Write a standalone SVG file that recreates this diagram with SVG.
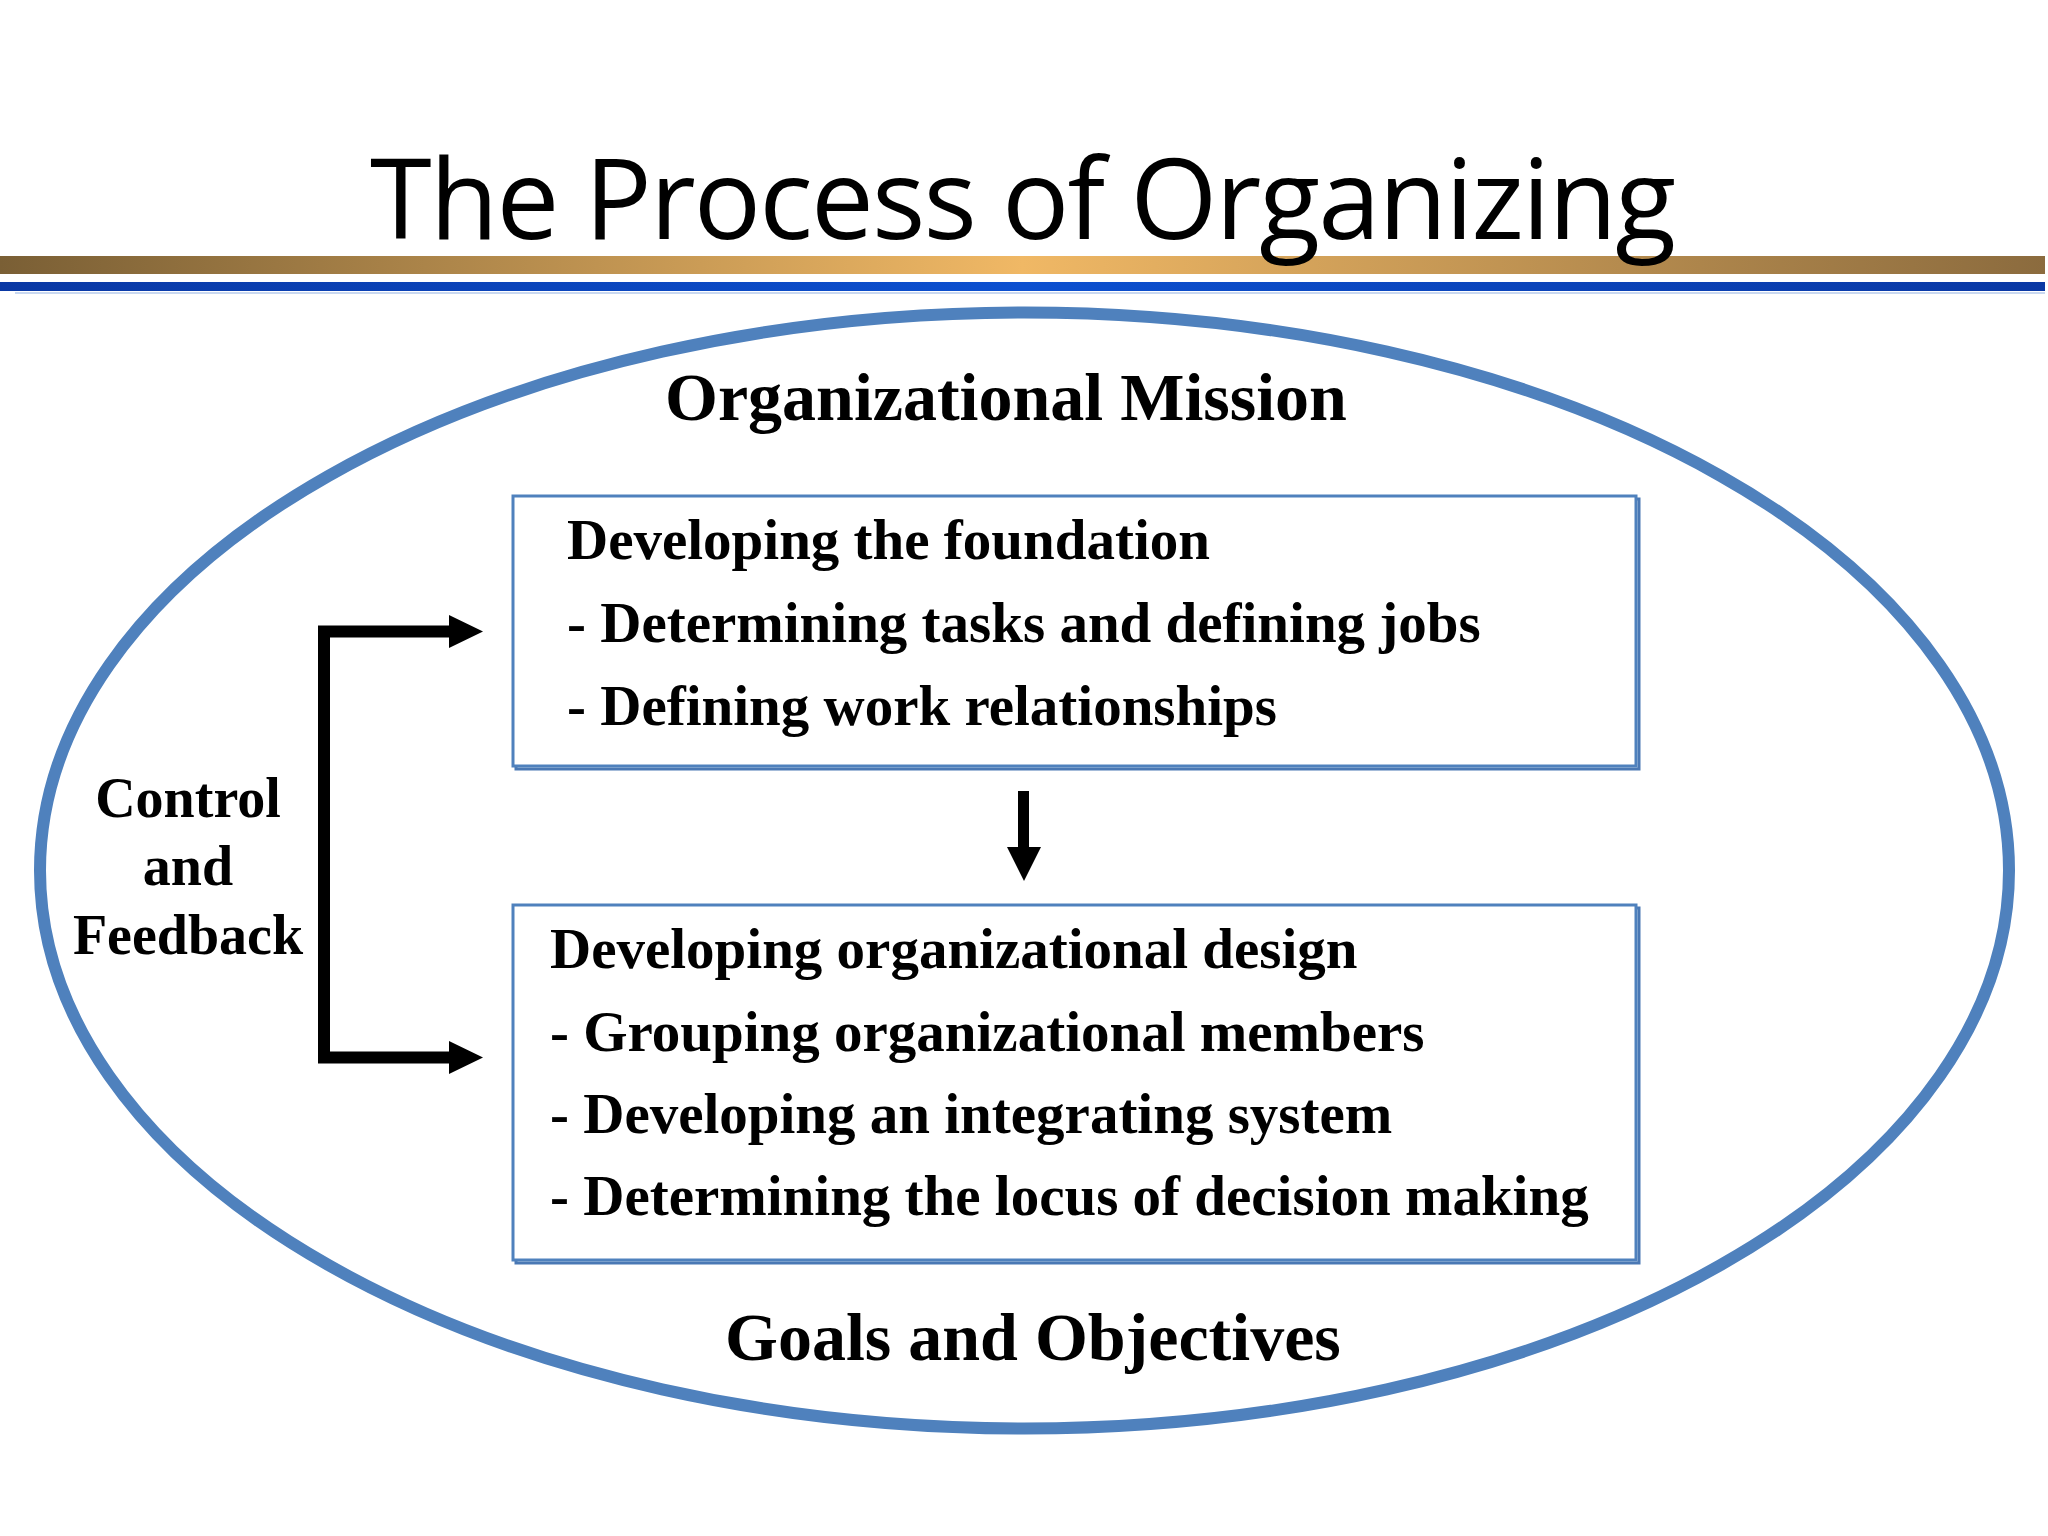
<svg xmlns="http://www.w3.org/2000/svg" width="2048" height="1536" viewBox="0 0 2048 1536">
  <style>
    .title { font-family: "Open Sans", "Noto Sans", sans-serif; font-size: 112px; fill: #000; }
    .big { font-family: "Liberation Serif", "Times New Roman", serif; font-weight: bold; font-size: 68px; fill: #000; }
    .txt { font-family: "Liberation Serif", "Times New Roman", serif; font-weight: bold; font-size: 57px; fill: #000; }
    .side { font-family: "Liberation Serif", "Times New Roman", serif; font-weight: bold; font-size: 56px; fill: #000; }
    .box { fill: #ffffff; stroke: #4f81bd; stroke-width: 3; }
    .shadow { fill: none; stroke: #4a78b4; stroke-width: 3; }
    .conn { fill: none; stroke: #000; stroke-width: 12; stroke-linejoin: miter; }
    .head { fill: #000; }
  </style>
  <defs>
    <linearGradient id="gold" x1="0" y1="0" x2="1" y2="0">
      <stop offset="0" stop-color="#7a5f35"/>
      <stop offset="0.5" stop-color="#f0b865"/>
      <stop offset="1" stop-color="#8b6b3e"/>
    </linearGradient>
    <linearGradient id="blue" x1="0" y1="0" x2="1" y2="0">
      <stop offset="0" stop-color="#0a38a4"/>
      <stop offset="0.5" stop-color="#0c50d0"/>
      <stop offset="1" stop-color="#0a38a4"/>
    </linearGradient>
  </defs>
  <rect width="2048" height="1536" fill="#ffffff"/>

  <g id="header">
    <rect x="0" y="256" width="2045" height="18" fill="url(#gold)"/>
    <rect x="0" y="282" width="2045" height="9" fill="url(#blue)"/>
    <rect x="15" y="292" width="2030" height="2" fill="#c9d8f0"/>
    <text class="title" x="370" y="239" textLength="1306" lengthAdjust="spacing">The Process of Organizing</text>
  </g>

  <g id="mission-ellipse">
    <ellipse cx="1024.5" cy="870.5" rx="984.5" ry="558" fill="none" stroke="#4f81bd" stroke-width="12"/>
    <text class="big" x="665" y="420">Organizational Mission</text>
    <text class="big" x="725" y="1360">Goals and Objectives</text>
  </g>

  <g id="foundation">
    <rect class="shadow" x="516" y="499" width="1123" height="270"/>
    <rect class="box" x="513" y="496" width="1123" height="270"/>
    <text class="txt" x="567" y="559">Developing the foundation</text>
    <text class="txt" x="567" y="642">- Determining tasks and defining jobs</text>
    <text class="txt" x="567" y="725">- Defining work relationships</text>
  </g>

  <g id="design">
    <rect class="shadow" x="516" y="908" width="1123" height="355"/>
    <rect class="box" x="513" y="905" width="1123" height="355"/>
    <text class="txt" x="550" y="968">Developing organizational design</text>
    <text class="txt" x="550" y="1051">- Grouping organizational members</text>
    <text class="txt" x="550" y="1133">- Developing an integrating system</text>
    <text class="txt" x="550" y="1215">- Determining the locus of decision making</text>
  </g>

  <g id="control-feedback">
    <text class="side" x="188" y="817" text-anchor="middle">Control</text>
    <text class="side" x="188" y="885" text-anchor="middle">and</text>
    <text class="side" x="188" y="954" text-anchor="middle">Feedback</text>
  </g>

  <g id="connectors">
    <path class="conn" d="M 452 631.5 H 324 V 1057.5 H 452"/>
    <polygon class="head" points="449,615 483,631.5 449,648"/>
    <polygon class="head" points="449,1041 483,1057.5 449,1074"/>
    <path class="conn" d="M 1023.5 791 V 850" style="stroke-width:11"/>
    <polygon class="head" points="1007,847 1041,847 1024,881"/>
  </g>
</svg>
